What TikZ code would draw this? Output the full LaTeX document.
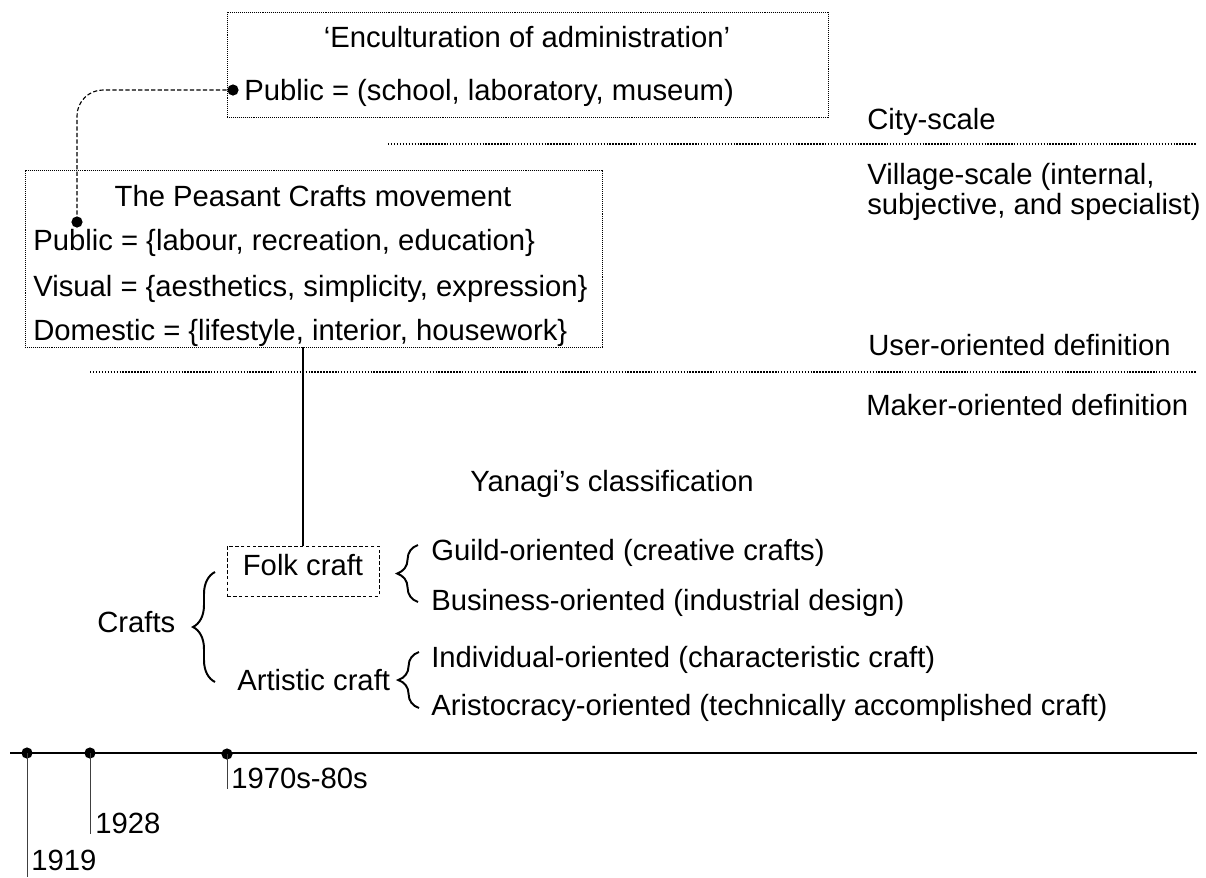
\documentclass[tikz,border=0pt]{standalone}
\usepackage{fontspec}
\setmainfont{Liberation Sans}
\usetikzlibrary{decorations.pathreplacing}

\tikzset{
    lbl/.style={inner sep=0pt, font=\fontsize{20.8}{21.3}\selectfont},
    txt/.style={lbl, anchor=west, text height=0.72em, text depth=0.2em},
    ctxt/.style={txt, anchor=center},
    dotbox/.style={draw, line width=0.6pt, dash pattern=on 0.7pt off 0.7pt, inner sep=0pt},
    folkbox/.style={draw, line width=0.6pt, dash pattern=on 2.6pt off 1.6pt, text height=0.72em, text depth=0.05em, font=\fontsize{20.8}{21.3}\selectfont},
    dot/.style={circle, fill, inner sep=0pt, minimum size=2.8mm},
    scaleline/.style={line width=1.3pt, dash pattern=on 1pt off 1.1pt},
    linkline/.style={line width=0.8pt, dash pattern=on 3pt off 1.6pt, rounded corners=0.65cm},
    solidlink/.style={line width=1.6pt},
    bracket/.style={decorate, decoration={brace, amplitude=#1}, line width=1.4pt},
    tick/.style={line width=0.7pt, black!75},
}

\begin{document}
\begin{tikzpicture}[x=0.025cm, y=-0.025cm]
    \useasboundingbox (0,0) rectangle (1206,877);

    %% administration box (city-scale)
    \node[dotbox, minimum width=15.025cm, minimum height=2.625cm] (admin) at (527.5,64.5) {};
    \node[ctxt] (admintitle) at (527,44) {‘Enculturation of administration’};
    \node[dot] (admindot) at (233,90) {};
    \node[txt] (adminpublic) at (244,97) {Public = (school, laboratory, museum)};

    %% scale labels
    \node[txt] (city) at (867,126) {City-scale};
    \coordinate (cityl) at (388,144);
    \coordinate (cityr) at (1197,144);
    \draw[scaleline] (cityl) -- (cityr);
    \node[lbl, align=left, anchor=north west] (village) at (867,163) {Village-scale (internal,\\subjective, and specialist)};

    %% peasant crafts box
    \node[dotbox, minimum width=14.425cm, minimum height=4.425cm] (peasant) at (313.5,258.5) {};
    \node[ctxt] (peatitle) at (313,203) {The Peasant Crafts movement};
    \node[dot] (peadot) at (77,222) {};
    \node[txt] (peapublic) at (33,247) {Public = \{labour, recreation, education\}};
    \node[txt] (peavisual) at (33,293) {Visual = \{aesthetics, simplicity, expression\}};
    \node[txt] (peadomestic) at (33,337) {Domestic = \{lifestyle, interior, housework\}};

    \draw[linkline] (admindot.center) -| (peadot.center);

    %% definition labels
    \node[txt] (user) at (868,352) {User-oriented definition};
    \coordinate (defl) at (90,372);
    \coordinate (defr) at (1197,372);
    \draw[scaleline] (defl) -- (defr);
    \node[txt] (maker) at (866,412) {Maker-oriented definition};

    %% Yanagi's classification
    \node[txt] (yanagi) at (470,488) {Yanagi’s classification};
    \node[folkbox, minimum width=3.8cm, minimum height=1.25cm] (folk) at (303,571) {Folk craft};
    \draw[solidlink] (peasant.south -| folk.north) -- (folk.north);

    \node[txt] (crafts) at (97,629) {Crafts};
    \node[txt] (artistic) at (237,687) {Artistic craft};
    \draw[bracket=0.55cm] (215,682) -- (215,572);

    \node[txt] (guild) at (431,557) {Guild-oriented (creative crafts)};
    \node[txt] (business) at (431,607) {Business-oriented (industrial design)};
    \draw[bracket=0.52cm] (418,602) -- (418,545);

    \node[txt] (individual) at (431,664) {Individual-oriented (characteristic craft)};
    \node[txt] (aristocracy) at (431,712) {Aristocracy-oriented (technically accomplished craft)};
    \draw[bracket=0.52cm] (419,708) -- (419,652);

    %% timeline
    \coordinate (tlstart) at (10,753);
    \coordinate (tlend) at (1197,753);
    \draw[line width=1.8pt] (tlstart) -- (tlend);

    \node[dot] (d1919) at (27,753) {};
    \node[dot] (d1928) at (90,753) {};
    \node[dot] (d1970) at (227,754) {};

    \node[txt] (y1919) at (31,867) {1919};
    \node[txt] (y1928) at (95,830) {1928};
    \node[txt] (y1970) at (231,785) {1970s-80s};
    \coordinate (tl1919end) at (27,877);

    \draw[tick] (d1919.center) -- (tl1919end);
    \draw[tick] (d1928.center) -- (d1928.center |- y1928.base);
    \draw[tick] (d1970.center) -- (d1970.center |- y1970.base);
\end{tikzpicture}
\end{document}
